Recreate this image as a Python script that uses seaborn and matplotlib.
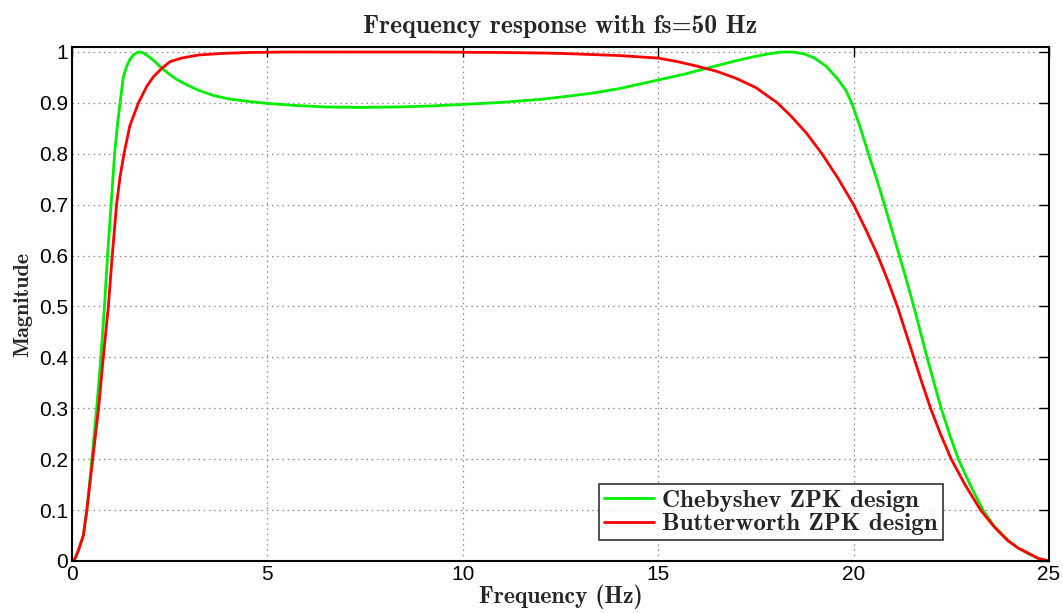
import matplotlib
matplotlib.use("Agg")
import matplotlib.pyplot as plt
import matplotlib.ticker as mticker
import seaborn as sns
import pandas as pd

# Chebyshev ZPK design
cheb_freq = [0, 0.08, 0.16, 0.29, 0.38, 0.51, 0.63, 0.74, 0.83, 0.91, 1.0, 1.09, 1.16,
             1.23, 1.31, 1.40, 1.48, 1.58, 1.70, 1.80, 1.91, 2.08, 2.30, 2.48, 2.68, 2.95,
             3.23, 3.6, 4.0, 4.5, 5.0, 5.7, 6.5, 7.4, 8.3, 9.2, 10.0, 11.0, 12.0, 12.57,
             13.3, 14.0, 15.0, 15.7, 16.29, 16.9, 17.4, 17.8, 18.15, 18.45, 18.75, 19.0,
             19.3, 19.58, 19.8, 19.95, 20.17, 20.38, 20.6, 20.79, 20.98, 21.17, 21.36, 21.54,
             21.71, 21.88, 22.06, 22.24, 22.45, 22.68, 22.98, 23.31, 23.6, 23.95, 24.2,
             24.48, 24.73, 25.0]
cheb_mag = [0, 0.005, 0.02, 0.05, 0.1, 0.2, 0.3, 0.4, 0.5, 0.6, 0.7, 0.8, 0.855,
            0.9, 0.95, 0.972, 0.985, 0.995, 1.0, 0.999, 0.994, 0.984, 0.968, 0.957, 0.946, 0.935,
            0.925, 0.915, 0.908, 0.903, 0.899, 0.895, 0.892, 0.891, 0.892, 0.894, 0.897, 0.901, 0.907, 0.912,
            0.919, 0.928, 0.945, 0.957, 0.969, 0.981, 0.99, 0.996, 1.0, 1.0, 0.996, 0.988,
            0.972, 0.948, 0.925, 0.9, 0.852, 0.8, 0.748, 0.7, 0.65, 0.6, 0.55, 0.5,
            0.45, 0.4, 0.35, 0.3, 0.25, 0.2, 0.15, 0.1, 0.068, 0.041, 0.026,
            0.014, 0.005, 0]

# Butterworth ZPK design
butt_freq = [0, 0.08, 0.16, 0.29, 0.38, 0.53, 0.68, 0.80, 0.93, 1.03, 1.14, 1.23, 1.33,
             1.48, 1.70, 1.91, 2.08, 2.30, 2.51, 2.8, 3.23, 3.8, 4.5, 5.5, 7, 9, 11, 12.0,
             12.57, 13.3, 14, 15, 15.5, 16.0, 16.5, 17.0, 17.5, 18.05, 18.4, 18.8,
             19.19, 19.6, 20.0, 20.32, 20.62, 20.88, 21.12, 21.33, 21.54, 21.75, 21.97,
             22.22, 22.5, 22.85, 23.25, 23.6, 23.93, 24.2, 24.48, 24.73, 25]
butt_mag = [0, 0.005, 0.02, 0.05, 0.1, 0.2, 0.3, 0.4, 0.5, 0.6, 0.7, 0.755, 0.8,
            0.855, 0.9, 0.932, 0.951, 0.968, 0.981, 0.988, 0.994, 0.997, 0.999, 1.0, 1.0, 1.0, 0.999, 0.998,
            0.997, 0.995, 0.993, 0.988, 0.981, 0.972, 0.962, 0.948, 0.93, 0.9, 0.874, 0.84,
            0.8, 0.752, 0.7, 0.65, 0.6, 0.55, 0.5, 0.45, 0.4, 0.35, 0.3,
            0.25, 0.2, 0.15, 0.1, 0.067, 0.041, 0.026, 0.015, 0.005, 0]

series_names = ["Chebyshev ZPK design", "Butterworth ZPK design"]
series_colors = ["#00ee00", "#ff0000"]

title_text = "Frequency response with fs=50 Hz"
xlabel_text = "Frequency (Hz)"
ylabel_text = "Magnitude"
xticks = [0, 5, 10, 15, 20, 25]
yticks = [0, 0.1, 0.2, 0.3, 0.4, 0.5, 0.6, 0.7, 0.8, 0.9, 1.0]

sns.set_style("white")
plt.rcParams["font.family"] = ["Liberation Sans", "DejaVu Sans"]

serif_bold = ["cmb10", "DejaVu Serif"]

df = pd.concat([
    pd.DataFrame({"f": cheb_freq, "m": cheb_mag, "s": series_names[0]}),
    pd.DataFrame({"f": butt_freq, "m": butt_mag, "s": series_names[1]}),
])

fig = plt.figure(figsize=(10.63, 6.13), dpi=100)
ax = fig.add_axes([72 / 1063, 1 - 561 / 613, (1049 - 72) / 1063, (561 - 47) / 613])

sns.lineplot(data=df, x="f", y="m", hue="s", palette=series_colors, linewidth=2.0,
             ax=ax, sort=False, estimator=None, solid_joinstyle="round",
             solid_capstyle="round")

ax.set_xlim(0, 25)
ax.set_ylim(0, 1.0098)
ax.set_xticks(xticks)
ax.set_yticks(yticks)
ax.yaxis.set_major_formatter(mticker.FormatStrFormatter("%g"))
ax.xaxis.set_major_formatter(mticker.FormatStrFormatter("%g"))
ax.tick_params(direction="in", length=7, width=1.0, top=True, right=True,
               labelsize=15, pad=3, colors="black")
for sp in ax.spines.values():
    sp.set_visible(True)
    sp.set_color("black")
    sp.set_linewidth(1.5)
ax.grid(True, linestyle=(0, (1.2, 3)), color="#888888", linewidth=0.9)

ax.set_title(title_text, fontfamily=serif_bold, fontsize=18.5, pad=10)
ax.set_xlabel(xlabel_text, fontfamily=serif_bold, fontsize=17, labelpad=0)
ax.set_ylabel(ylabel_text, fontfamily=serif_bold, fontsize=16, labelpad=5)

leg = ax.legend(loc="lower right", bbox_to_anchor=(0.891, 0.04), frameon=True,
                fancybox=False, edgecolor="black", prop={"family": serif_bold, "size": 18},
                handlelength=2.0, handletextpad=0.3, borderpad=0.2, labelspacing=0.05,
                borderaxespad=0.0)
leg.get_frame().set_linewidth(1.2)
for line in leg.get_lines():
    line.set_linewidth(2.0)

fig.savefig("out.png", dpi=100)
